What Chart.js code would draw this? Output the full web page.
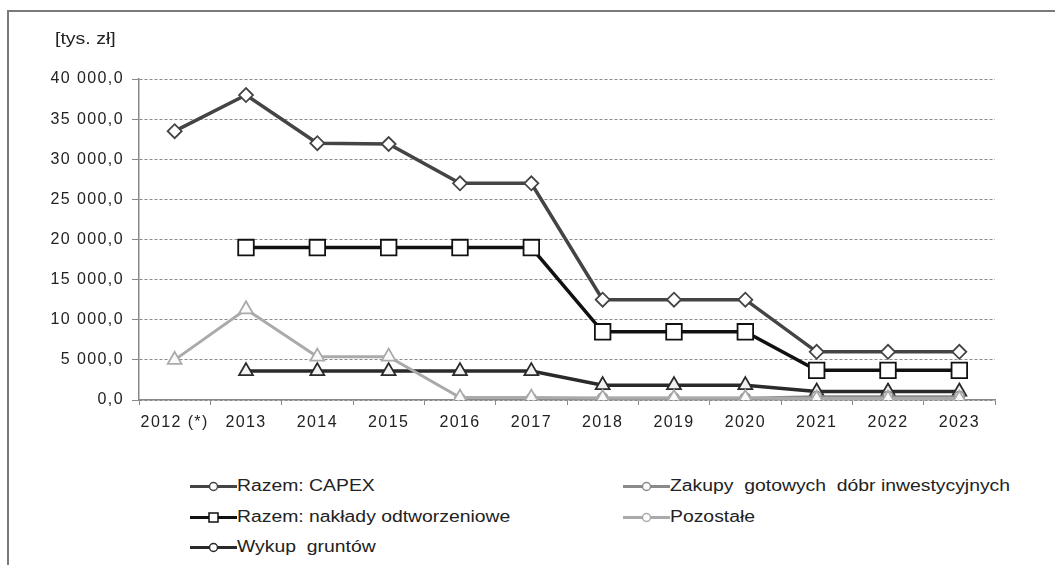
<!DOCTYPE html>
<html lang="pl">
<head>
<meta charset="utf-8">
<script src="https://cdn.jsdelivr.net/npm/chart.js@4/dist/chart.umd.min.js"></script>
<style>
  body { margin: 0; background: #fff; font-family: "Liberation Sans", Arial, sans-serif; }
  #wrap { position: relative; width: 1055px; height: 565px; overflow: hidden; }
  #frame { position: absolute; left: 7px; top: 10px; right: -5px; bottom: -5px;
           border-top: 2px solid #7a7a7a; border-left: 2px solid #7a7a7a; }
  #chart { position: absolute; left: 0; top: 0; }
  #unit { position: absolute; left: 55px; top: 30px; font-size: 16px; color: #222;
          transform: scaleX(1.22); transform-origin: left center; }
  .leg { position: absolute; font-size: 16px; color: #222; display: flex; align-items: center; white-space: nowrap; }
  .leg span { display: inline-block; transform: scaleX(1.21); transform-origin: left center; }
</style>
</head>
<body>
<div id="wrap">
  <div id="frame"></div>
  <canvas id="chart" width="1055" height="450"></canvas>
  <div id="unit">[tys. zł]</div>
  <div id="legend"></div>
</div>
<script>
// Dane
var lata = ['2012 (*)', '2013', '2014', '2015', '2016', '2017', '2018', '2019', '2020', '2021', '2022', '2023'];
var razemCapex = [33500, 38000, 32000, 31900, 27000, 27000, 12500, 12500, 12500, 6000, 6000, 6000];
var naklady = [null, 19000, 19000, 19000, 19000, 19000, 8500, 8500, 8500, 3700, 3700, 3700];
var wykup = [null, 3600, 3600, 3600, 3600, 3600, 1850, 1850, 1850, 1050, 1050, 1050];
var zakupy = [null, null, null, null, 150, 150, 250, 250, 250, 450, 450, 450];
var pozostale = [5000, 11300, 5400, 5400, 300, 300, 250, 250, 250, 150, 150, 150];
var yTicks = [0, 5000, 10000, 15000, 20000, 25000, 30000, 35000, 40000];

// Formatowanie liczb: "40 000,0"
function fmt(v) {
  var s = v.toFixed(1).split('.');
  return s[0].replace(/\B(?=(\d{3})+(?!\d))/g, ' ') + ',' + s[1];
}

var serie = [
  { label: 'Razem: CAPEX', data: razemCapex, color: '#444', width: 3.5, point: 'rectRot', radius: 7, fill: '#fff', legPoint: 'circle' },
  { label: 'Razem: nakłady odtworzeniowe', data: naklady, color: '#111', width: 3.5, point: 'rect', radius: 11, fill: '#fff', legPoint: 'rect' },
  { label: 'Wykup  gruntów', data: wykup, color: '#2a2a2a', width: 3.5, point: 'triangle', radius: 8, fill: '#f2f2f2', legPoint: 'circle' },
  { label: 'Zakupy  gotowych  dóbr inwestycyjnych', data: zakupy, color: '#8a8a8a', width: 2.5, point: 'circle', radius: 5, fill: '#fff', legPoint: 'circle' },
  { label: 'Pozostałe', data: pozostale, color: '#aaa', width: 3, point: 'triangle', radius: 8, fill: '#fafafa', legPoint: 'circle' }
];

var datasets = serie.map(function(s, i) {
  return {
    label: s.label,
    data: s.data,
    borderColor: s.color,
    borderWidth: s.width,
    pointStyle: s.point,
    pointRadius: s.radius,
    pointBorderWidth: 1.8,
    pointBorderColor: s.color,
    pointBackgroundColor: s.fill,
    tension: 0,
    order: 5 - i
  };
});

// Szerszy tekst jak w oryginale (obraz jest rozciągnięty w poziomie)
var rozstaw = {
  id: 'rozstaw',
  beforeUpdate: function(chart) { chart.ctx.letterSpacing = '1.4px'; },
  beforeDraw: function(chart) { chart.ctx.letterSpacing = '1.4px'; }
};

new Chart(document.getElementById('chart').getContext('2d'), {
  type: 'line',
  data: { labels: lata, datasets: datasets },
  plugins: [rozstaw],
  options: {
    responsive: false,
    animation: false,
    layout: { padding: { left: 0, right: 60, top: 79, bottom: 0 } },
    plugins: { legend: { display: false }, tooltip: { enabled: false } },
    scales: {
      x: {
        offset: true,
        grid: { display: true, drawOnChartArea: false, drawTicks: true, tickLength: 5, color: '#888', offset: true },
        border: { display: true, color: '#888', width: 1.5 },
        ticks: { color: '#222', font: { family: '"Liberation Sans", Arial', size: 16 }, padding: 8, maxRotation: 0 },
        afterFit: function(scale) { scale.height = 50; }
      },
      y: {
        min: 0,
        max: 40000,
        afterBuildTicks: function(scale) { scale.ticks = yTicks.map(function(v) { return { value: v }; }); },
        grid: { color: '#8a8a8a', lineWidth: 1, tickLength: 7 },
        border: { display: true, color: '#888', width: 1.5, dash: [3, 2] },
        ticks: { color: '#222', font: { family: '"Liberation Sans", Arial', size: 16 }, padding: 8,
                 callback: function(v) { return fmt(v); } },
        afterFit: function(scale) { scale.width = 139; }
      }
    }
  }
});

// Legenda w dwóch kolumnach
var legPos = [
  { x: 190, y: 487 }, { x: 623, y: 487 },
  { x: 190, y: 518 }, { x: 623, y: 518 },
  { x: 190, y: 548 }
];
var legOrder = [0, 3, 1, 4, 2];
var legend = document.getElementById('legend');
legOrder.forEach(function(idx, k) {
  var s = serie[idx];
  var marker = s.legPoint === 'rect'
    ? '<rect x="19" y="4" width="9" height="9" fill="#fff" stroke="' + s.color + '" stroke-width="1.5"/>'
    : '<circle cx="23.5" cy="8.5" r="4" fill="#fff" stroke="' + s.color + '" stroke-width="1.5"/>';
  var div = document.createElement('div');
  div.className = 'leg';
  div.style.left = legPos[k].x + 'px';
  div.style.top = (legPos[k].y - 10) + 'px';
  div.innerHTML = '<svg width="47" height="17"><line x1="0" y1="8.5" x2="47" y2="8.5" stroke="' + s.color +
    '" stroke-width="3"/>' + marker + '</svg><span>' + s.label.replace(/ /g, '&nbsp;') + '</span>';
  legend.appendChild(div);
});
</script>
</body>
</html>
